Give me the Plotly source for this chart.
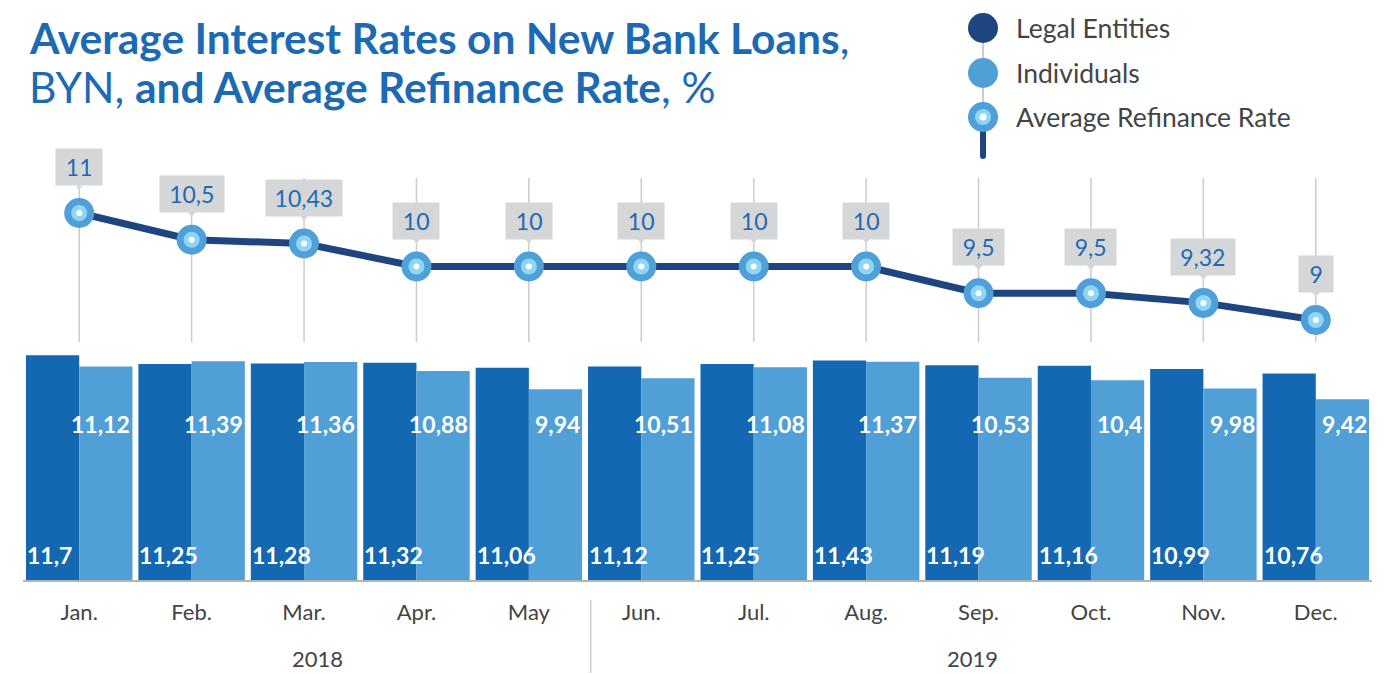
import plotly.graph_objects as go

# --- data ---
months = ["Jan.", "Feb.", "Mar.", "Apr.", "May", "Jun.", "Jul.", "Aug.", "Sep.", "Oct.", "Nov.", "Dec."]
years = ["2018", "2019"]
legal_entities = [11.7, 11.25, 11.28, 11.32, 11.06, 11.12, 11.25, 11.43, 11.19, 11.16, 10.99, 10.76]
individuals = [11.12, 11.39, 11.36, 10.88, 9.94, 10.51, 11.08, 11.37, 10.53, 10.4, 9.98, 9.42]
refinance_rate = [11, 10.5, 10.43, 10, 10, 10, 10, 10, 9.5, 9.5, 9.32, 9]

W, H = 1394, 674
DARK_BAR = "#1467b1"
LIGHT_BAR = "#519fd7"
NAVY = "#1f4580"
RING = "#4f9fd8"
RING_IN = "#8fd6f6"
TEXT_BLUE = "#1d6ab4"
GREY_TXT = "#444444"
FONT = "Lato"


def fmt(v):
    s = ("%.2f" % v).rstrip("0").rstrip(".")
    return s.replace(".", ",")


def px(x):
    return x / W


def py(y):
    return 1 - y / H


xs = list(range(len(months)))
BARGAP = 0.053
half = (1 - BARGAP) / 2

fig = go.Figure()

fig.add_trace(go.Bar(x=xs, y=legal_entities, name="Legal Entities", marker_color=DARK_BAR,
                     marker_line_width=0, offsetgroup="a", showlegend=False))
fig.add_trace(go.Bar(x=xs, y=individuals, name="Individuals", marker_color=LIGHT_BAR,
                     marker_line_width=0, offsetgroup="b", showlegend=False))

# refinance rate line
fig.add_trace(go.Scatter(x=xs, y=refinance_rate, yaxis="y2", mode="lines+markers",
                         line=dict(color=NAVY, width=7),
                         marker=dict(size=23, color=RING_IN, line=dict(color=RING, width=7)),
                         showlegend=False, cliponaxis=False))
fig.add_trace(go.Scatter(x=xs, y=refinance_rate, yaxis="y2", mode="markers",
                         marker=dict(size=6, color="white"), showlegend=False, cliponaxis=False))

shapes = []
annotations = []

# vertical guide lines above the bars
for i in xs:
    shapes.append(dict(type="line", xref="x", yref="paper", x0=i, x1=i, y0=py(178), y1=py(342),
                       line=dict(color="#cccccc", width=1.5), layer="below"))

# value boxes over the line
for i, v in zip(xs, refinance_rate):
    t = fmt(v)
    nd = sum(c.isdigit() for c in t)
    nc = t.count(",")
    w = 12.2 * nd + 5 * nc + 12
    annotations.append(dict(x=i, y=v, xref="x", yref="y2", text=t, showarrow=False,
                            yshift=46, yanchor="middle", width=w, height=26, borderpad=5,
                            bgcolor="#d5d6d8", font=dict(family=FONT, size=23, color=TEXT_BLUE)))
    shapes.append(dict(type="path", xref="x", yref="y2", xsizemode="pixel", ysizemode="pixel",
                       xanchor=i, yanchor=v, path="M -5 29 L 5 29 L 0 23 Z",
                       fillcolor="#d5d6d8", line=dict(width=0)))

# bar value labels
for i, (a, b) in enumerate(zip(legal_entities, individuals)):
    annotations.append(dict(x=i - half, y=0, xref="x", yref="y", text="<b>%s</b>" % fmt(a),
                            showarrow=False, xanchor="left", yanchor="bottom", xshift=-1, yshift=9,
                            font=dict(family=FONT, size=23, color="white")))
    annotations.append(dict(x=i + half, y=0, xref="x", yref="y", text="<b>%s</b>" % fmt(b),
                            showarrow=False, xanchor="right", yanchor="middle", xshift=0, yshift=156,
                            font=dict(family=FONT, size=23, color="white")))

# year group labels and separator
annotations.append(dict(x=2.12, y=0, xref="x", yref="paper", text=years[0], showarrow=False,
                        yanchor="bottom", font=dict(family=FONT, size=22, color=GREY_TXT)))
annotations.append(dict(x=7.95, y=0, xref="x", yref="paper", text=years[1], showarrow=False,
                        yanchor="bottom", font=dict(family=FONT, size=22, color=GREY_TXT)))
shapes.append(dict(type="line", xref="x", yref="paper", x0=4.55, x1=4.55, y0=py(600), y1=py(673),
                   line=dict(color="#cccccc", width=1.5)))

# title, two lines
annotations.append(dict(x=px(27), y=py(38), xref="paper", yref="paper", xanchor="left", yanchor="middle",
                        showarrow=False, text="<b>Average Interest Rates on New Bank Loans</b>,",
                        font=dict(family=FONT, size=42.5, color=TEXT_BLUE)))
annotations.append(dict(x=px(27), y=py(87), xref="paper", yref="paper", xanchor="left", yanchor="middle",
                        showarrow=False, text="BYN, <b>and Average Refinance Rate</b>, %",
                        font=dict(family=FONT, size=42.5, color=TEXT_BLUE)))

# legend
lx = 983
shapes.append(dict(type="line", xref="paper", yref="paper", x0=px(lx), x1=px(lx), y0=py(28), y1=py(117),
                   line=dict(color="#bbbbbb", width=1.5)))
shapes.append(dict(type="line", xref="paper", yref="paper", x0=px(lx), x1=px(lx), y0=py(117), y1=py(156),
                   line=dict(color=NAVY, width=6)))
shapes.append(dict(type="circle", xref="paper", yref="paper", x0=px(lx - 3), x1=px(lx + 3),
                   y0=py(153), y1=py(159), fillcolor=NAVY, line=dict(width=0)))


def circ(cx, cy, r, color):
    return dict(type="circle", xref="paper", yref="paper", x0=px(cx - r), x1=px(cx + r),
                y0=py(cy + r), y1=py(cy - r), fillcolor=color, line=dict(width=0))


shapes.append(circ(lx, 28, 15, NAVY))
shapes.append(circ(lx, 73, 15, LIGHT_BAR))
shapes.append(circ(lx, 117, 15, RING))
shapes.append(circ(lx, 117, 8, RING_IN))
shapes.append(circ(lx, 117, 3.5, "white"))
for label, yy in [("Legal Entities", 28), ("Individuals", 73), ("Average Refinance Rate", 117)]:
    annotations.append(dict(x=px(1014), y=py(yy), xref="paper", yref="paper", xanchor="left",
                            yanchor="middle", text=label, showarrow=False,
                            font=dict(family=FONT, size=26.5, color=GREY_TXT)))

fig.update_layout(
    width=W, height=H,
    margin=dict(l=0, r=0, t=0, b=0),
    paper_bgcolor="white", plot_bgcolor="white",
    barmode="group", bargap=BARGAP, bargroupgap=0,
    xaxis=dict(domain=[px(23), px(1372)], range=[-0.5, 11.5], tickvals=xs, ticktext=months,
               showgrid=False, zeroline=False, showline=True, linecolor="#b5b5b5", linewidth=2,
               ticks="", ticklabelstandoff=12, tickfont=dict(family=FONT, size=22, color=GREY_TXT),
               fixedrange=True),
    yaxis=dict(domain=[py(580), py(349.6)], range=[0, 12], visible=False, fixedrange=True),
    yaxis2=dict(domain=[py(346.75), py(186.25)], range=[8.5, 11.5], visible=False, anchor="x",
                fixedrange=True),
    shapes=shapes,
    annotations=annotations,
    showlegend=False,
)

fig.write_html("out.html")
